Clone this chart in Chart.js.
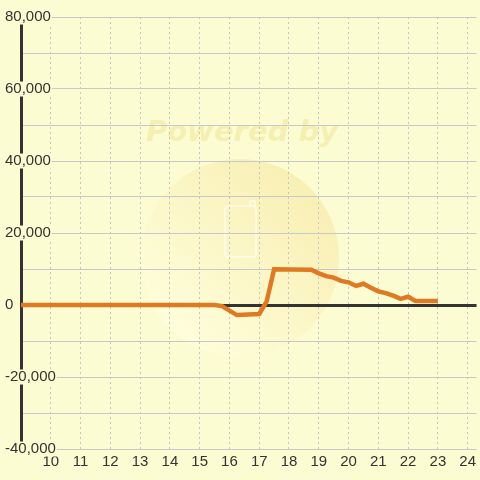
<!DOCTYPE html>
<html>
<head>
<meta charset="utf-8">
<script src="https://cdn.jsdelivr.net/npm/chart.js@4/dist/chart.umd.min.js"></script>
<style>
  html, body { margin: 0; padding: 0; background: #fcfcd2; }
  #wrap { width: 480px; height: 480px; }
</style>
</head>
<body>
<div id="wrap"><canvas id="myChart"></canvas></div>
<script>
// hour of day -> value
const hours  = [9, 15.5, 15.75, 16.25, 17.0, 17.25, 17.5, 18.75, 19.0, 19.25, 19.5, 19.75, 20.0, 20.25, 20.5, 20.75, 21.0, 21.25, 21.5, 21.75, 22.0, 22.25, 23.0];
const values = [0, 0, -300, -2800, -2500, 1000, 9900, 9800, 8800, 8000, 7600, 6700, 6300, 5300, 5900, 4800, 3800, 3300, 2600, 1700, 2300, 1100, 1100];

const xMin = 9, xMax = 24.3;
const yMin = -40000, yMax = 80000;

const bg = '#fcfcd2';
const ctx = document.getElementById('myChart');

// faint "Powered by" watermark behind the grid
const watermark = {
  id: 'watermark',
  beforeDraw(chart) {
    const c = chart.ctx;
    c.save();
    const g = c.createLinearGradient(170, 330, 320, 170);
    g.addColorStop(0, 'rgba(255,255,225,0.6)');
    g.addColorStop(1, 'rgba(245,226,150,0.55)');
    c.fillStyle = g;
    c.beginPath();
    c.arc(240, 258, 99, 0, Math.PI * 2);
    c.fill();
    // phone outline
    c.strokeStyle = 'rgba(255,255,245,0.7)';
    c.lineWidth = 1.5;
    c.beginPath();
    c.roundRect(225, 206, 31, 51, 3);
    c.moveTo(250, 206);
    c.lineTo(250, 201);
    c.lineTo(255, 201);
    c.lineTo(255, 206);
    c.stroke();
    c.font = 'italic bold 29px "DejaVu Sans"';
    c.fillStyle = 'rgba(240,225,140,0.45)';
    c.textAlign = 'center';
    c.textBaseline = 'middle';
    c.fillText('Powered by', 242, 133);
    c.restore();
  }
};

new Chart(ctx, {
  type: 'line',
  data: {
    datasets: [{
      data: hours.map((h, i) => ({ x: h, y: values[i] })),
      borderColor: '#e07a22',
      borderWidth: 4.5,
      pointRadius: 0,
      tension: 0,
      fill: false
    }]
  },
  options: {
    responsive: true,
    maintainAspectRatio: false,
    animation: false,
    layout: { padding: { left: 2, top: 17, right: 0, bottom: 5 } },
    plugins: { legend: { display: false }, tooltip: { enabled: false } },
    scales: {
      x: {
        type: 'linear',
        min: xMin,
        max: xMax,
        grid: { color: '#c4c4c4', lineWidth: 1, drawTicks: false },
        border: { display: false, dash: [2, 3] },
        ticks: {
          stepSize: 1,
          includeBounds: false,
          autoSkip: false,
          maxRotation: 0,
          padding: 4,
          color: '#333',
          font: { family: '"Liberation Sans", Arial', size: 15 },
          callback: v => v === xMin ? '' : String(v)
        }
      },
      y: {
        min: yMin,
        max: yMax,
        afterFit: scale => { scale.width = 19; },
        grid: {
          drawTicks: false,
          color: c => c.tick && c.tick.value === 0 ? '#333' : '#c8c8cc',
          lineWidth: c => c.tick && c.tick.value === 0 ? 3 : 1
        },
        border: { display: true, color: '#333', width: 3 },
        ticks: {
          stepSize: 10000,
          mirror: true,
          padding: -16,
          color: '#333',
          font: { family: '"Liberation Sans", Arial', size: 15, lineHeight: 1 },
          showLabelBackdrop: c => c.tick && c.tick.value % 20000 === 0,
          backdropColor: bg,
          backdropPadding: { left: 1, right: 1, top: 0, bottom: 0 },
          callback: v => v % 20000 === 0 ? v.toLocaleString('en-US') : ''
        }
      }
    }
  },
  plugins: [watermark]
});
</script>
</body>
</html>
